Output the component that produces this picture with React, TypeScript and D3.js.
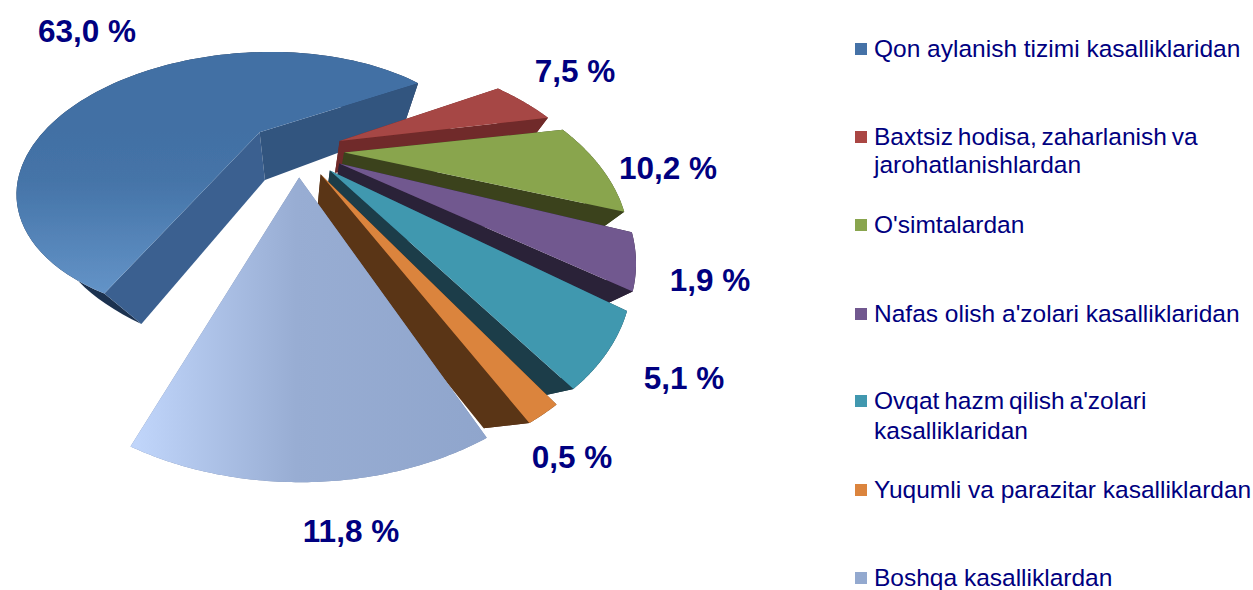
import React from "react";
import * as d3 from "d3";

// Series names (legend wraps are given as separate lines)
const categories = [
  "Qon aylanish tizimi kasalliklaridan",
  "Baxtsiz hodisa, zaharlanish va jarohatlanishlardan",
  "O'simtalardan",
  "Nafas olish a'zolari kasalliklaridan",
  "Ovqat hazm qilish a'zolari kasalliklaridan",
  "Yuqumli va parazitar kasalliklardan",
  "Boshqa kasalliklardan",
];
const legendLines = [
  ["Qon aylanish tizimi kasalliklaridan"],
  ["Baxtsiz hodisa, zaharlanish va", "jarohatlanishlardan"],
  ["O'simtalardan"],
  ["Nafas olish a'zolari kasalliklaridan"],
  ["Ovqat hazm qilish a'zolari", "kasalliklaridan"],
  ["Yuqumli va parazitar kasalliklardan"],
  ["Boshqa kasalliklardan"],
];
// Printed data labels, exactly as the picture shows them
const valueLabels = ["63,0 %", "7,5 %", "10,2 %", "1,9 %", "5,1 %", "0,5 %", "11,8 %"];
// Visible size of each wedge (degrees of sweep)
const wedgeSweeps = [216, 19, 32, 16, 19, 5, 44];

// Styles
const topColors = ["url(#blueTop)", "#a64644", "#89a54e", "#71588f", "#4198af", "#db843d", "url(#paleTop)"];
const swatchColors = ["#4572a7", "#aa4643", "#89a54e", "#71588f", "#4198af", "#db843d", "#93a9cf"];
const startSideColors = ["#3b6190", "#6f2a29", "#3a431f", "#2c2038", "#1b3c49", "#5a3417", "#7a8cae"];
const endSideColors = ["#32547f", "#6f2a29", "#3a431f", "#2c2038", "#1b3c49", "#5a3417", "#7a8cae"];
const rimColors = ["#1f3350", "#6f2a29", "#3a431f", "#2c2038", "#1b3c49", "#5a3417", "#7a8cae"];

// Layout
const TEXT = "#000080";
const FONT = "'Liberation Sans', Arial, sans-serif";
const labelAnchors: [number, number][] = [[87, 42], [575, 82], [668, 179], [710, 291], [684, 389], [572, 468], [351, 542]];
const legendBaselines = [[57], [145, 173], [233], [322], [409, 439], [498], [586]];
const legendWordSpacing = [0, -2, 0, 0, -2, 0, 0];
const swatchTops = [43, 131, 219, 308, 395, 484, 572];

// 3D pie projection
const CX = 298, CY = 150, A = 242, B = 133, K = 0.44;
const sliceExplode = [0.22, 0.19, 0.19, 0.19, 0.19, 0.19, 0.19];
const sliceRadius = [0.95, 1, 1, 1, 1, 1, 1];
const sliceDepth = [48, 32, 34, 34, 34, 46, 40];
const sliceStartTrim = [1.2, 0, 0, 0, 0, 0, 0].map((d) => (d * Math.PI) / 180);
const VANISH: [number, number] = [295, 450];
const GAP = (9 / 7) * (Math.PI / 180);

const scaleX = d3.scaleLinear().domain([0, 1]).range([0, A]);
const scaleY = d3.scaleLinear().domain([0, 1]).range([0, B]);
const project = (u: number, v: number): [number, number] => {
  const w = 1 - K * v;
  return [CX + scaleX(u) / w, CY + scaleY(v) / w];
};
const dropBy = (depth: number) => (p: [number, number]): [number, number] => {
  const dx = VANISH[0] - p[0], dy = VANISH[1] - p[1];
  const d = Math.hypot(dx, dy) || 1;
  return [p[0] + (dx / d) * depth, p[1] + (dy / d) * depth];
};

const arcs = d3
  .pie<number>()
  .sort(null)
  .value((d) => d)
  .padAngle(GAP)
  .startAngle((202 * Math.PI) / 180 - GAP / 2)
  .endAngle((202 * Math.PI) / 180 - GAP / 2 + 2 * Math.PI)(wedgeSweeps);

const line = d3.line<[number, number]>().curve(d3.curveLinear);

const slices = arcs.map((arc, i) => {
  const a0 = arc.startAngle + GAP / 2;
  const a1 = arc.endAngle - GAP / 2;
  const mid = (a0 + a1) / 2;
  const ox = sliceExplode[i] * Math.sin(mid);
  const oy = -sliceExplode[i] * Math.cos(mid);
  const r = sliceRadius[i];
  const drop = dropBy(sliceDepth[i]);
  const apex = project(ox, oy);
  const from = a0 + sliceStartTrim[i];
  const rim = d3.range(0, 97).map((k) => {
    const t = from + ((a1 - from) * k) / 96;
    return project(ox + r * Math.sin(t), oy - r * Math.cos(t));
  });
  const bottomRim = rim.map(drop);
  const bottomApex = drop(apex);
  const first = rim[0];
  const last = rim[rim.length - 1];
  return {
    top: line([apex, ...rim])! + "Z",
    rimBand: line([...rim, ...bottomRim.slice().reverse()])! + "Z",
    startSide: line([apex, first, drop(first), bottomApex])! + "Z",
    endSide: line([apex, last, drop(last), bottomApex])! + "Z",
  };
});

export default function App() {
  return (
    <svg
      width={1253}
      height={590}
      viewBox="0 0 1253 590"
      style={{ position: "absolute", left: 0, top: 0, display: "block", background: "#fff" }}
    >
      <defs>
        <linearGradient id="blueTop" gradientUnits="userSpaceOnUse" x1="0" y1="130" x2="0" y2="300">
          <stop offset="0" stopColor="#4270a4" />
          <stop offset="0.3" stopColor="#4574a8" />
          <stop offset="1" stopColor="#6595c9" />
        </linearGradient>
        <linearGradient id="paleTop" gradientUnits="userSpaceOnUse" x1="137" y1="0" x2="490" y2="0">
          <stop offset="0" stopColor="#c0d5fa" />
          <stop offset="0.45" stopColor="#98add3" />
          <stop offset="1" stopColor="#8fa5cc" />
        </linearGradient>
        <filter id="soft" x="-5%" y="-5%" width="110%" height="110%">
          <feGaussianBlur stdDeviation="0.5" />
        </filter>
      </defs>
      <g filter="url(#soft)">
        {slices.map((s, i) => (
          <g key={categories[i]}>
            <path d={s.rimBand} fill={rimColors[i]} />
            <path d={s.startSide} fill={startSideColors[i]} />
            <path d={s.endSide} fill={endSideColors[i]} />
            <path d={s.top} fill={topColors[i]} />
          </g>
        ))}
      </g>
      {valueLabels.map((t, i) => (
        <text key={t} x={labelAnchors[i][0]} y={labelAnchors[i][1]} textAnchor="middle" fontFamily={FONT} fontWeight="bold" fontSize={31.5} fill={TEXT}>
          {t}
        </text>
      ))}
      {legendLines.map((lines, i) => (
        <g key={categories[i]}>
          <rect x={855} y={swatchTops[i]} width={12} height={12} fill={swatchColors[i]} />
          {lines.map((l, j) => (
            <text key={l} x={874} y={legendBaselines[i][j]} fontFamily={FONT} fontSize={24.5} fill={TEXT} wordSpacing={legendWordSpacing[i]}>
              {l}
            </text>
          ))}
        </g>
      ))}
    </svg>
  );
}
